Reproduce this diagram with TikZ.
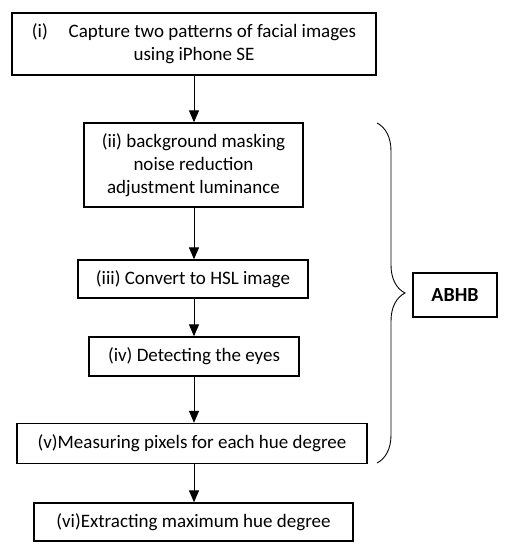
\documentclass[tikz,border=0pt]{standalone}
\usepackage{fontspec}
\setmainfont{Carlito}
\usetikzlibrary{arrows.meta,decorations.pathreplacing}
\begin{document}
\begin{tikzpicture}[x=1pt,y=-1pt,
  box/.style={draw=black,line width=1.3pt,inner sep=0pt,align=center,font=\fontsize{19}{23}\selectfont},
  arr/.style={line width=1pt,-{Triangle[width=10pt,length=12pt]}}]
\useasboundingbox (0,0) rectangle (506,550);
\fill[white] (0,0) rectangle (506,550);
\node[box,minimum width=364pt,minimum height=62pt] (b1) at (194,44) {(i)\hspace{1.1em}Capture two patterns of facial images\\using iPhone SE};
\node[box,minimum width=219pt,minimum height=84pt] (b2) at (193.5,165) {(ii) background masking\\noise reduction\\adjustment luminance};
\node[box,minimum width=230pt,minimum height=38pt] (b3) at (193,279) {(iii) Convert to HSL image};
\node[box,minimum width=210pt,minimum height=39pt] (b4) at (194,356.5) {(iv) Detecting the eyes};
\node[box,minimum width=350pt,minimum height=40pt] (b5) at (192,443.5) {(v)Measuring pixels for each hue degree};
\node[box,minimum width=319pt,minimum height=38pt] (b6) at (193.5,522) {(vi)Extracting maximum hue degree};
\node[box,minimum width=84pt,minimum height=44pt,font=\fontsize{20}{22}\selectfont\bfseries] (ab) at (455,295) {ABHB};
\coordinate (x) at (194,0);
\draw[arr] (x |- b1.south) -- (x |- b2.north);
\draw[arr] (x |- b2.south) -- (x |- b3.north);
\draw[arr] (x |- b3.south) -- (x |- b4.north);
\draw[arr] (x |- b4.south) -- (x |- b5.north);
\draw[arr] (x |- b5.south) -- (x |- b6.north);
\coordinate (bt) at (377,123);
\coordinate (bb) at (377,463);
\draw[line width=0.9pt,decorate,decoration={brace,amplitude=28pt}] (bt) -- (bb);
\end{tikzpicture}
\end{document}
